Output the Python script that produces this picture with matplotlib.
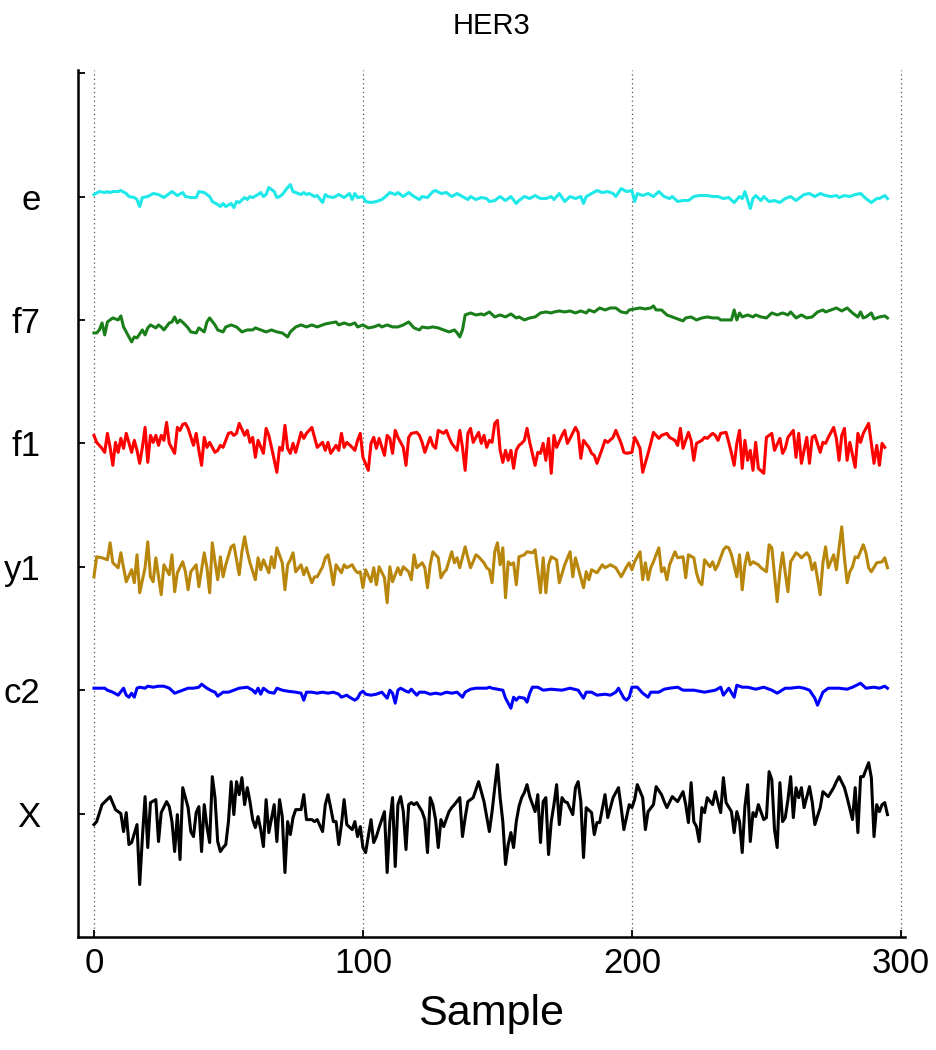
import matplotlib
matplotlib.use("Agg")
import matplotlib.pyplot as plt
import numpy as np

plt.rcParams['font.family'] = ['Liberation Sans', 'DejaVu Sans']

title = "HER3"
xlabel = "Sample"
channel_labels = ["X", "c2", "y1", "f1", "f7", "e"]
channel_colors = ["#000000", "#0000ff", "#b8860b", "#ff0000", "#1a7f1a", "#1ee8e8"]
x_ticks = [0, 100, 200, 300]

# --- series (sample index, amplitude) ---
X_s = [0,1,3,6,8,10,11,12,13,14,16,17,18,19,20,21,23,24,25,27,28,29,30,31,32,33,35,36,37,38,39,40,41,42,43,44,45,46,47,48,49,50,51,52,53,54,55,56,57,58,59,60,61,62,63,64,65,67,68,69,70,71,72,73,74,75,77,78,79,81,82,83,85,86,87,88,89,90,91,92,93,94,96,97,98,99,100,101,103,104,105,106,108,109,110,111,112,113,114,115,116,117,118,119,120,122,123,124,125,126,127,128,129,130,132,133,134,136,137,138,139,141,143,144,145,147,148,149,150,151,152,153,154,155,156,157,158,159,160,161,162,164,165,166,167,168,169,170,171,172,173,174,175,176,178,179,180,181,182,183,185,186,187,188,190,191,193,195,196,197,199,200,201,202,204,205,206,208,209,211,212,213,215,217,219,220,221,222,223,224,225,226,227,228,230,231,232,233,234,235,237,238,239,240,241,242,243,244,245,246,247,249,250,251,252,253,254,255,256,257,258,259,260,261,262,263,264,266,267,268,270,271,273,275,276,277,279,280,282,283,284,285,286,288,289,290,291,292,293,294,295]
X_v = [-11,-8,9,17,4,0,-18,1,-31,-29,-11,-71,-24,17,-34,11,14,-28,1,12,7,-8,-38,-1,-46,26,6,-18,-23,1,7,-38,9,-13,-29,37,16,-28,-38,-34,-31,-8,32,-1,32,19,36,9,26,12,-6,-14,-3,-16,-33,14,-19,9,-28,14,-3,-59,-8,-21,-4,4,4,19,-6,-6,-8,-6,-18,9,19,6,-8,-8,-31,-11,14,-11,-16,-8,-23,-13,-34,-39,-6,-29,-23,-14,2,-59,-8,16,-53,9,17,2,-36,9,11,9,11,2,-6,-39,16,9,-6,-34,-6,-13,2,6,9,16,-23,-4,12,16,32,22,12,-18,2,26,49,16,-8,-51,-31,-19,-34,-8,7,16,21,29,17,2,19,-29,12,16,-41,-8,9,29,-11,16,12,11,-1,26,32,12,-44,6,1,-21,-9,-9,19,-4,16,26,6,-16,9,6,14,29,16,-16,2,9,27,19,12,6,17,12,22,9,-9,31,-8,-13,-28,6,1,16,9,22,11,1,36,11,2,-19,2,-8,-39,7,29,-28,1,-3,9,-6,-4,42,34,-16,-34,31,-8,-4,14,37,-4,26,16,26,6,27,12,-11,6,22,17,26,32,37,26,16,-6,26,-19,37,37,51,36,-23,9,2,9,11,-1]

c2_s = [0,4,5,7,9,11,12,13,14,15,16,17,19,20,22,24,26,28,30,31,33,35,37,39,40,42,44,45,46,48,50,52,54,57,59,60,61,62,63,65,67,68,70,72,75,77,78,79,81,83,85,87,89,91,92,94,95,97,98,99,100,101,103,105,107,108,109,110,111,112,113,114,116,117,118,120,121,123,125,127,129,131,133,135,137,138,140,142,144,146,147,148,150,152,153,155,156,157,158,160,161,162,163,165,167,170,174,177,180,182,183,185,187,190,192,194,195,197,198,199,200,202,204,206,207,210,212,214,217,219,223,227,231,233,234,236,238,239,241,243,246,249,252,254,257,259,262,264,266,268,269,271,273,277,280,282,285,287,290,292,294,295]
c2_v = [2,2,0,-2,-5,2,-5,-7,-3,-7,2,3,2,4,3,4,4,2,-3,-2,0,2,2,3,6,2,-1,-2,-6,-2,-2,0,2,3,0,-3,2,-4,2,-2,-3,2,0,-1,-2,-3,-10,-2,-2,-3,-2,-3,-2,-4,-7,-5,-7,-10,-8,-3,-1,-4,-5,-4,-2,-5,-8,0,-3,-13,0,2,-1,-2,1,-5,-2,-2,-4,-3,-4,-2,-3,-2,-7,-2,1,2,2,2,3,2,1,0,-8,-18,-7,-10,-7,-8,-12,-3,3,3,0,1,0,2,0,-8,-2,-2,-5,-4,-5,-2,2,-8,-10,-7,3,3,-3,-7,-2,-2,1,2,3,0,0,-2,0,3,-5,2,-7,5,3,3,1,3,0,-3,2,2,3,2,0,-8,-15,-2,2,2,1,3,7,2,3,2,4,2]

y1_s = [0,1,3,5,6,7,9,10,11,12,14,15,16,17,19,20,21,22,23,25,26,28,29,30,31,33,34,35,36,38,39,41,42,43,44,45,46,47,48,49,51,52,53,54,55,56,57,58,60,61,62,63,65,66,67,68,70,71,72,73,74,75,77,78,79,81,82,83,85,86,87,88,89,90,92,93,94,96,97,98,99,100,101,103,104,105,106,108,109,110,111,113,114,115,117,118,119,120,122,123,124,125,126,128,129,130,131,133,134,135,136,138,139,140,142,143,145,146,147,148,149,150,151,152,153,154,155,156,157,158,160,161,163,164,166,167,168,169,170,172,173,175,177,178,179,180,182,183,184,185,187,189,190,192,194,196,198,199,200,201,203,204,205,206,207,208,210,211,212,213,214,216,217,219,220,221,223,224,225,226,227,229,230,231,232,234,235,236,237,239,240,241,242,243,244,245,247,248,250,251,252,254,255,256,257,258,259,261,262,263,265,266,267,268,270,271,272,273,275,276,277,278,279,280,281,282,283,284,286,287,288,289,291,293,294,295]
y1_v = [-10,10,9,7,24,4,-1,14,-1,-15,-3,-16,12,-26,-1,25,-10,-15,9,-28,2,-8,12,-25,-6,5,-5,-23,-5,2,-20,14,-1,-26,24,5,-13,10,-10,2,20,22,7,-8,15,30,15,4,-13,9,-3,7,-6,10,-1,19,4,-23,2,7,14,-5,2,-8,-1,-16,-10,-10,0,9,12,-1,-18,2,-6,2,-1,2,-3,-6,-5,-21,-3,-15,-1,-18,0,-11,-36,0,-15,-1,-8,0,-5,-13,12,-1,4,-1,-21,2,15,9,-11,-6,-3,15,4,9,-1,20,9,-1,12,10,4,-1,-3,-16,15,24,2,19,-31,5,2,4,-18,10,12,15,14,17,-26,9,-26,2,10,7,-16,2,15,-10,9,-1,-21,-5,-13,-3,-6,2,-1,2,-1,-10,0,4,-3,5,15,-13,4,-13,-1,5,19,-5,-1,-13,2,15,9,10,-11,12,9,-6,-15,-18,7,0,5,-3,2,17,20,19,12,-10,12,-23,2,14,2,5,2,-1,-5,22,19,-35,-5,14,-6,-25,5,14,12,9,14,10,-3,4,-28,4,20,-1,12,-3,19,40,9,-16,-5,0,10,9,22,14,-1,-5,4,5,9,-1]

f1_s = [0,1,3,4,5,6,7,8,9,10,11,12,14,15,16,17,18,19,20,21,22,23,24,25,26,27,28,30,31,32,33,34,35,37,38,39,40,41,42,43,45,46,47,48,50,51,52,53,54,56,57,58,59,60,61,63,64,65,66,68,69,70,71,72,73,74,75,77,78,79,81,82,83,85,86,87,88,90,91,92,93,94,96,97,98,99,100,102,103,104,105,106,108,109,110,111,112,113,115,116,117,118,120,121,122,123,125,126,127,128,130,131,132,133,135,136,137,138,139,140,141,143,144,145,146,147,148,149,150,151,152,153,154,155,156,157,158,159,160,161,162,164,165,166,167,168,169,170,171,172,174,175,176,177,179,180,181,182,184,185,186,187,189,190,191,193,194,196,197,198,200,201,202,203,204,206,207,208,210,211,213,214,216,217,218,219,221,222,223,224,226,227,228,230,231,232,233,235,236,237,238,239,240,241,242,243,244,245,246,247,249,250,251,252,253,255,256,257,258,260,261,262,263,265,266,267,268,270,271,272,273,275,276,277,278,279,280,281,283,284,285,286,288,289,290,291,292,293,294]
f1_v = [8,1,-5,-9,10,-4,-22,1,-9,5,-5,10,-9,3,-7,-20,-4,16,-19,8,1,8,-2,8,3,21,0,-10,16,13,19,20,15,-2,10,-7,-22,6,-4,1,-9,-7,-2,-4,10,11,8,10,20,8,13,1,6,-14,3,-10,15,8,-4,-29,-4,-7,18,-5,-10,0,-9,11,5,10,16,6,-4,1,-7,1,-10,-2,-7,10,-4,1,-4,-7,3,10,-14,-27,0,6,-5,5,-12,8,5,-10,13,6,-4,-22,6,10,11,8,1,-9,6,-2,-5,13,10,13,6,0,-7,13,-4,-27,10,15,1,11,0,8,-4,3,1,20,23,-7,-19,-7,-17,-7,-25,-7,-2,0,3,15,1,-22,-9,-10,0,-17,5,-30,8,-4,8,13,0,5,16,11,-15,3,-4,-10,-12,-20,-5,3,1,6,13,0,-9,-10,-9,6,1,-5,-29,-10,0,11,5,8,10,6,3,-2,15,-5,11,3,-17,0,3,6,5,10,8,3,10,11,1,-10,-22,0,13,-25,3,-17,-7,-27,1,-25,-30,6,8,10,-7,5,-10,-5,6,13,-14,10,-20,6,-20,6,8,-9,1,0,6,16,5,-17,8,15,-17,1,-24,10,1,10,20,0,-20,-2,-22,0,-4]

f7_s = [0,1,2,3,4,5,7,9,10,11,12,14,15,16,18,19,20,21,23,24,25,26,28,29,30,31,32,34,35,36,38,39,41,42,43,45,46,48,49,51,53,55,57,59,60,62,64,66,68,70,72,73,75,77,79,81,83,85,86,88,90,91,93,95,97,98,100,102,104,106,107,109,111,113,115,117,119,121,122,124,126,128,130,132,134,135,136,137,138,140,142,144,145,147,149,151,153,155,157,158,160,162,164,166,168,170,171,173,175,177,179,181,183,184,186,188,190,192,194,196,198,199,201,203,205,207,208,209,211,213,215,217,219,220,222,224,226,228,230,232,233,235,237,238,239,240,241,243,245,246,248,250,252,254,256,258,259,261,263,265,267,269,271,272,274,276,278,280,282,284,285,286,287,289,290,292,294,295]
f7_v = [-13,-13,-10,-3,-15,-2,2,0,4,-7,-12,-22,-17,-18,-10,-15,-8,-5,-8,-5,-7,-10,-3,-2,3,-3,0,-5,-8,-12,-13,-8,-12,-2,2,-5,-10,-12,-7,-5,-7,-12,-10,-10,-8,-10,-12,-10,-12,-13,-17,-12,-7,-5,-7,-5,-7,-5,-4,-3,-2,-5,-3,-5,-3,-7,-5,-8,-7,-5,-7,-5,-7,-7,-5,-2,-8,-10,-7,-8,-7,-8,-10,-12,-10,-13,-17,-10,5,7,5,6,5,8,3,5,3,6,2,3,0,2,3,7,8,7,8,9,8,9,7,9,7,10,8,12,10,12,12,8,7,10,11,12,11,12,14,10,10,5,3,1,-1,2,3,0,2,3,2,2,0,0,0,10,0,7,3,5,3,5,3,2,7,5,7,5,8,2,5,2,3,8,10,8,10,12,9,12,7,3,8,2,3,7,1,3,4,2]

e_s = [0,2,4,5,6,7,9,10,12,13,15,16,17,18,20,22,24,26,28,29,31,33,34,36,38,39,41,43,44,46,47,48,49,51,52,53,54,56,57,58,59,61,62,63,64,65,67,68,69,70,72,73,74,75,77,78,79,80,82,83,85,86,87,89,91,93,95,96,97,98,100,101,103,105,107,108,110,112,113,115,117,119,121,122,124,126,127,129,131,133,135,137,139,140,142,144,146,147,149,151,153,155,157,158,160,162,164,166,168,170,171,173,175,177,179,181,182,183,185,187,189,191,193,194,196,198,200,201,202,204,206,208,210,212,214,215,217,219,221,223,225,227,228,230,232,234,236,238,240,241,242,244,245,246,248,249,251,253,255,257,259,261,262,264,266,268,270,272,274,276,277,279,281,283,285,287,289,291,292,294,295]
e_v = [2,5,4,5,4,5,5,6,3,0,-1,-3,-10,-1,0,3,2,-1,3,5,1,4,0,-1,-1,5,4,0,-5,-8,-10,-7,-10,-7,-11,-5,-6,-1,-3,0,-1,2,4,0,2,9,5,-1,0,2,9,12,5,4,2,4,2,3,0,1,-6,2,0,-1,2,-1,3,-3,3,-1,0,-5,-6,-5,-3,-1,4,2,4,0,4,0,-3,0,-1,5,6,3,4,0,3,0,-3,0,-3,-1,-2,-5,-4,0,-4,0,-7,-4,0,-2,1,-2,-2,0,-3,3,-5,0,-2,0,-7,0,3,6,4,5,3,0,8,5,6,-5,3,1,3,0,5,0,-2,0,-5,-4,-4,0,1,1,1,0,0,-2,-1,-6,0,-2,5,-12,-2,1,-4,0,-5,-4,-6,-2,0,-4,-2,2,3,0,3,1,0,1,-1,1,0,2,3,-2,-6,-2,-2,1,-2]

series = [(X_s, X_v), (c2_s, c2_v), (y1_s, y1_v), (f1_s, f1_v), (f7_s, f7_v), (e_s, e_v)]
amp_scale = 1.0 / 123.6  # amplitude units per channel spacing

fig = plt.figure(figsize=(9.37, 10.5), dpi=100)
ax = fig.add_axes([0.0832, 0.1076, 0.8826, 0.8257])

for i, ((s, v), col) in enumerate(zip(series, channel_colors)):
    ax.plot(np.array(s), i + np.array(v) * amp_scale, color=col, lw=2.2,
            solid_joinstyle='round', zorder=3)

ax.set_xlim(-5.95, 301.5)
ax.set_ylim(-1, 6.025)
ax.set_xticks(x_ticks)
ax.set_yticks(range(len(channel_labels) + 1))
ax.set_yticklabels(channel_labels + [""])
ax.xaxis.grid(True, linestyle=(0, (1, 2.5)), color='#555555', lw=0.9)
ax.yaxis.grid(False)
for sp in ['top', 'right']:
    ax.spines[sp].set_visible(False)
for sp in ['left', 'bottom']:
    ax.spines[sp].set_linewidth(1.8)
ax.tick_params(axis='both', direction='in', length=5, width=1.3, labelsize=25)
ax.tick_params(axis='y', pad=27)
ax.tick_params(axis='x', pad=7)
ax.set_xlabel(xlabel, fontsize=31, labelpad=10)
ax.set_title(title, fontsize=21, pad=26)

fig.savefig("out.png", dpi=100)
